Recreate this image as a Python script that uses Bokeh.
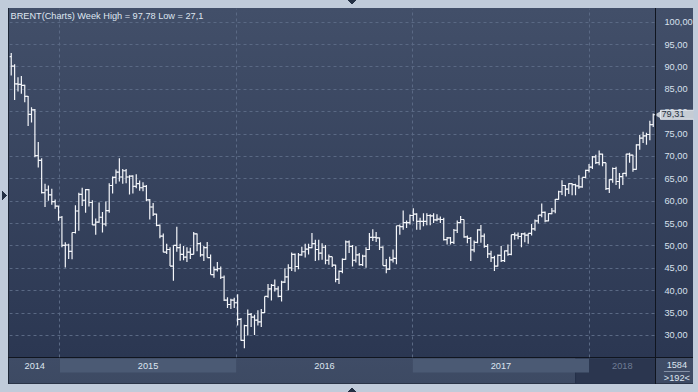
import math
import pandas as pd
from datetime import datetime, timedelta
from bokeh.plotting import figure
from bokeh.models import (Range1d, Grid, FixedTicker, SingleIntervalTicker,
                          CustomJSTickFormatter, Label, ColumnDataSource)
from bokeh.layouts import column, row
from bokeh.embed import file_html
from bokeh.resources import INLINE
from bokeh.core.properties import value

# ---------------- data (weekly OHLC) ----------------
week_start = "2014-09-22"
opens = [92.3, 90.2, 86.2, 86.1, 85.9, 83.4, 79.4, 80.4, 70.2, 69.1, 61.9, 62.5,
         61.4, 59.9, 58.9,
         56.4, 50.1, 50.2, 48.8, 53.0, 57.8, 61.5, 60.2, 62.6, 59.7, 54.7,
         55.3, 56.4, 54.9, 57.9, 63.5, 65.3, 66.5, 65.4, 66.8, 65.4, 65.6, 63.3,
         63.9, 63.0, 63.3, 60.3, 58.7, 57.1, 54.6, 52.2, 48.6, 49.2, 45.5, 50.1,
         49.6, 48.1, 47.5, 48.6, 48.1, 52.7, 50.5, 48.0, 49.6, 47.4, 43.6, 44.7,
         44.9, 43.0, 37.9, 36.9, 37.9, 37.3, 33.6, 28.9, 32.2, 34.7, 34.1, 33.4,
         33.0, 35.1, 38.7, 40.4, 41.2, 40.4, 38.7, 41.9, 43.1, 45.1, 48.1, 45.4,
         48.0, 48.7, 49.3, 49.6, 50.5, 49.2, 48.4, 49.7, 46.8, 47.6, 45.7, 42.5,
         44.3, 47.0, 50.9, 49.9, 46.8, 48.0, 45.8, 47.7, 49.2, 51.9, 51.9, 51.8,
         49.7, 45.6, 44.8, 46.9, 47.2, 54.5, 54.3, 55.2, 55.2, 56.8, 57.1, 55.5,
         55.5, 55.5, 56.8, 56.7, 55.8, 56.0, 55.9, 51.4, 51.8, 50.8, 53.5, 55.2,
         55.9, 52.0, 51.7, 49.1, 50.8, 53.6, 52.2, 49.9, 48.2, 47.4, 45.5, 47.9,
         46.7, 48.9, 48.1, 52.5, 52.4, 52.1, 52.7, 52.4, 52.8, 53.8, 55.6, 56.9,
         57.5, 55.6, 57.2, 57.8, 60.4, 62.1, 63.5, 62.7, 63.9, 63.7, 63.4, 63.2,
         65.3, 66.9, 67.6, 69.9, 68.6, 70.5, 68.6, 62.8, 64.8, 67.3, 64.4, 65.5,
         66.2, 70.5, 70.3, 67.1, 72.6, 74.1, 74.6, 74.9, 77.1]
highs = [93.1, 90.6, 87.7, 88.0, 86.0, 83.5, 81.0, 80.6, 73.2, 69.6, 63.9, 63.5,
         62.8, 60.4, 59.0,
         56.7, 50.8, 50.5, 53.0, 59.1, 61.9, 63.0, 62.7, 62.7, 60.2, 56.1,
         59.7, 57.6, 59.9, 64.0, 65.5, 67.1, 69.6, 67.2, 67.2, 65.8, 65.8, 66.0,
         64.6, 64.2, 63.6, 60.5, 59.6, 57.2, 54.8, 52.8, 50.5, 49.7, 50.1, 54.3,
         50.5, 50.0, 49.7, 49.6, 53.1, 52.8, 50.8, 50.0, 50.9, 48.1, 45.4, 46.4,
         45.4, 43.4, 38.5, 38.2, 38.4, 39.2, 33.9, 32.4, 35.8, 35.0, 34.6, 35.6,
         35.9, 38.7, 41.5, 41.5, 42.5, 41.0, 42.2, 45.0, 45.9, 48.5, 48.3, 48.4,
         49.8, 50.5, 50.5, 52.9, 51.4, 51.4, 50.6, 50.2, 48.1, 47.6, 45.8, 44.5,
         47.2, 51.2, 51.2, 50.2, 49.9, 48.4, 48.0, 49.7, 52.9, 53.7, 53.1, 51.9,
         49.9, 47.1, 47.6, 49.2, 54.5, 54.8, 57.9, 55.7, 57.0, 58.4, 57.3, 56.3,
         57.3, 57.3, 57.1, 57.3, 57.1, 56.6, 56.3, 52.0, 52.0, 53.8, 55.7, 56.7,
         55.9, 52.3, 52.0, 51.2, 53.7, 54.7, 52.8, 50.4, 48.9, 47.8, 48.1, 50.0,
         49.0, 50.3, 52.5, 53.0, 53.0, 52.9, 53.0, 52.8, 54.9, 55.9, 56.9, 59.5,
         57.7, 57.3, 58.5, 60.5, 62.3, 64.7, 63.6, 64.0, 64.0, 63.9, 65.8, 65.3,
         67.0, 68.3, 70.1, 70.4, 71.3, 70.6, 68.6, 64.9, 67.5, 67.7, 66.3, 66.3,
         70.6, 70.8, 70.4, 72.7, 74.8, 75.5, 75.3, 78.0, 79.6]
lows = [88.1, 82.6, 84.5, 84.0, 82.1, 76.8, 77.6, 69.8, 67.5, 61.7, 58.7, 60.1,
        59.2, 58.3, 55.6,
        49.7, 45.2, 47.1, 47.0, 52.8, 53.4, 58.9, 57.4, 58.8, 54.7, 52.5,
        55.2, 53.0, 54.4, 57.4, 61.7, 63.9, 64.4, 63.9, 64.0, 61.5, 61.7, 62.9,
        62.3, 62.2, 60.0, 55.9, 56.7, 54.4, 51.7, 48.6, 48.2, 45.5, 42.2, 48.7,
        46.7, 46.8, 46.4, 47.1, 48.1, 48.8, 47.6, 46.6, 47.4, 43.6, 42.9, 44.3,
        42.6, 37.7, 36.1, 35.9, 36.1, 32.2, 28.8, 27.1, 30.0, 31.9, 30.1, 32.2,
        31.9, 35.0, 38.4, 37.8, 39.8, 38.5, 37.6, 41.7, 40.1, 44.4, 44.2, 44.8,
        47.8, 47.4, 48.1, 49.5, 46.6, 46.8, 46.9, 45.9, 45.8, 45.3, 41.9, 41.5,
        43.9, 46.9, 48.4, 45.4, 46.3, 45.6, 45.5, 45.1, 49.1, 51.1, 50.9, 49.1,
        45.6, 43.9, 44.6, 46.3, 45.9, 52.5, 53.6, 54.0, 54.8, 55.5, 53.6, 53.6,
        54.4, 54.6, 54.6, 55.1, 55.5, 55.1, 51.2, 50.3, 50.3, 50.4, 52.9, 55.1,
        51.8, 50.6, 46.6, 48.6, 50.6, 50.7, 49.6, 47.3, 46.4, 44.4, 45.4, 46.4,
        46.4, 47.8, 47.9, 51.4, 51.5, 49.7, 50.8, 50.5, 52.3, 53.4, 55.0, 56.4,
        55.3, 55.5, 57.1, 57.3, 60.3, 61.4, 61.1, 61.6, 61.3, 61.3, 62.8, 63.0,
        65.1, 66.4, 67.2, 68.3, 68.0, 67.8, 62.5, 61.8, 64.1, 63.6, 62.8, 63.6,
        65.5, 68.6, 66.6, 67.0, 71.5, 73.0, 72.6, 73.6, 76.6]
closes = [90.2, 86.2, 86.1, 85.9, 83.4, 79.4, 80.4, 70.2, 69.1, 61.9, 62.5, 61.4,
          59.9, 58.9, 56.4,
          50.1, 50.2, 48.8, 53.0, 57.8, 61.5, 60.2, 62.6, 59.7, 54.7, 55.3,
          56.4, 54.9, 57.9, 63.5, 65.3, 66.5, 65.4, 66.8, 65.4, 65.6, 63.3, 63.9,
          63.0, 63.3, 60.3, 58.7, 57.1, 54.6, 52.2, 48.6, 49.2, 45.5, 50.1, 49.6,
          48.1, 47.5, 48.6, 48.1, 52.7, 50.5, 48.0, 49.6, 47.4, 43.6, 44.7, 44.9,
          43.0, 37.9, 36.9, 37.9, 37.3, 33.6, 28.9, 32.2, 34.7, 34.1, 33.4, 33.0,
          35.1, 38.7, 40.4, 41.2, 40.4, 38.7, 41.9, 43.1, 45.1, 48.1, 45.4, 48.0,
          48.7, 49.3, 49.6, 50.5, 49.2, 48.4, 49.7, 46.8, 47.6, 45.7, 42.5, 44.3,
          47.0, 50.9, 49.9, 46.8, 48.0, 45.8, 47.7, 49.2, 51.9, 51.9, 51.8, 49.7,
          45.6, 44.8, 46.9, 47.2, 54.5, 54.3, 55.2, 55.2, 56.8, 57.1, 55.5, 55.5,
          55.5, 56.8, 56.7, 55.8, 56.0, 55.9, 51.4, 51.8, 50.8, 53.5, 55.2, 55.9,
          52.0, 51.7, 49.1, 50.8, 53.6, 52.2, 49.9, 48.2, 47.4, 45.5, 47.9, 46.7,
          48.9, 48.1, 52.5, 52.4, 52.1, 52.7, 52.4, 52.8, 53.8, 55.6, 56.9, 57.5,
          55.6, 57.2, 57.8, 60.4, 62.1, 63.5, 62.7, 63.9, 63.7, 63.4, 63.2, 65.3,
          66.9, 67.6, 69.9, 68.6, 70.5, 68.6, 62.8, 64.8, 67.3, 64.4, 65.5, 66.2,
          70.5, 70.3, 67.1, 72.6, 74.1, 74.6, 74.9, 77.1, 79.31]

year_labels = ["2014", "2015", "2016", "2017", "2018"]
year_label_colors = ["#dde5f0", "#dde5f0", "#dde5f0", "#dde5f0", "#6f7d95"]
banded_years = [2015, 2017]
title_text = "BRENT(Charts) Week High = 97,78 Low = 27,1"
last_price_text = "79,31"
total_bars_text = "1584"
visible_bars_text = ">192<"
window_start = "2017-12-04"

# ---------------- ranges ----------------
ref = datetime(2015, 1, 1)
x_start = ref - timedelta(days=104.6)
x_end = ref + timedelta(days=1233.7)
xr = Range1d(start=x_start, end=x_end)
yr = Range1d(start=25.06, end=103.06)

dates = pd.date_range(week_start, periods=len(closes), freq="7D")
tick = pd.Timedelta(days=4)
src = ColumnDataSource(dict(x=dates, xo=dates - tick, xc=dates + tick,
                            o=opens, h=highs, l=lows, c=closes))

FONT = "Liberation Sans"
FS = "9.2px"
LIGHT = "#c0cbda"
DARK = "#243044"
common = dict(toolbar_location=None, output_backend="svg", title=None,
              background_fill_alpha=0, border_fill_alpha=0, outline_line_color=None)

# ---------------- main price panel ----------------
css_a1 = ", ".join([
    # small navigation arrows in the frame (top and left)
    f"linear-gradient(to top right, transparent 50%, {DARK} 50%) 348px 0 / 4px 4px no-repeat",
    f"linear-gradient(to top left, transparent 50%, {DARK} 50%) 352px 0 / 4px 4px no-repeat",
    f"linear-gradient(to bottom left, transparent 50%, {DARK} 50%) 2px 191px / 5px 5px no-repeat",
    f"linear-gradient(to top left, transparent 50%, {DARK} 50%) 2px 196px / 5px 5px no-repeat",
    "linear-gradient(#10151f,#10151f) 655px 8px / 1px 350px no-repeat",
    "linear-gradient(#10151f,#10151f) 8px 357px / 648px 1px no-repeat",
    "linear-gradient(#1d2636,#1d2636) 8px 8px / 1px 350px no-repeat",
    "linear-gradient(#424f69,#2b3752) 9px 8px / 646px 349px no-repeat",
    LIGHT,
])
p = figure(width=656, height=358, x_range=xr, y_range=yr,
           x_axis_type="datetime", x_axis_location=None, y_axis_location=None,
           min_border_left=9, min_border_right=1, min_border_top=8, min_border_bottom=1,
           styles={"background": css_a1}, **common)
p.grid.visible = False

yt = SingleIntervalTicker(interval=5)
year_ticks = [pd.Timestamp(f"{y}-01-01").value / 1e6 for y in range(2015, 2019)]
grid_style = dict(grid_line_color="#5a6984", grid_line_dash="3 3", grid_line_width=1)
p.add_layout(Grid(dimension=1, ticker=yt, **grid_style))
p.add_layout(Grid(dimension=0, ticker=FixedTicker(ticks=year_ticks), **grid_style))

bar_col = "#f4f6fa"
p.segment(x0="x", y0="l", x1="x", y1="h", source=src, line_color=bar_col, line_width=1.2)
p.segment(x0="xo", y0="o", x1="x", y1="o", source=src, line_color=bar_col, line_width=1.2)
p.segment(x0="x", y0="c", x1="xc", y1="c", source=src, line_color=bar_col, line_width=1.2)

p.add_layout(Label(x=1, y=347, x_units="screen", y_units="screen", text=title_text,
                   text_font=FONT, text_font_size=FS, text_color="#dfe6f0",
                   text_baseline="top"))

# ---------------- price axis panel ----------------
css_a2 = ", ".join([
    "linear-gradient(#10151f,#10151f) 0 357px / 37px 1px no-repeat",
    "linear-gradient(#424f69,#2b3752) 0 8px / 37px 349px no-repeat",
    LIGHT,
])
pa = figure(width=42, height=358, x_range=Range1d(0, 37), y_range=yr,
            x_axis_location=None, y_axis_location="right",
            min_border_left=0, min_border_right=5, min_border_top=8, min_border_bottom=1,
            styles={"background": css_a2}, **common)
pa.grid.visible = False
ax = pa.yaxis[0]
ax.ticker = yt
ax.formatter = CustomJSTickFormatter(code="return tick.toFixed(2).replace('.', ',');")
ax.axis_line_color = None
ax.major_tick_line_color = None
ax.minor_tick_line_color = None
ax.major_label_standoff = -35
ax.major_label_text_font = FONT
ax.major_label_text_font_size = FS
ax.major_label_text_color = "#d8e1ed"

pa.scatter(x=[2.0], y=[closes[-1]], marker="triangle", angle=math.pi / 2, size=7,
           fill_color="#c6ccd4", line_color=None)
pa.add_layout(Label(x=4, x_units="screen", y=closes[-1], y_units="data",
                    text=last_price_text, text_font=FONT, text_font_size=FS,
                    text_color="#27313f", text_baseline="middle",
                    background_fill_color="#c6ccd4", border_line_color="#e4e8ee",
                    padding=(1, 10, 1, 2)))

# ---------------- time bar ----------------
css_b1 = ", ".join([
    f"linear-gradient(to bottom right, transparent 50%, {DARK} 50%) 348px 29px / 4px 5px no-repeat",
    f"linear-gradient(to bottom left, transparent 50%, {DARK} 50%) 352px 29px / 4px 5px no-repeat",
    "linear-gradient(#1d2636,#1d2636) 8px 0 / 1px 26px no-repeat",
    "linear-gradient(#2a3447,#2a3447) 8px 25px / 647px 1px no-repeat",
    "linear-gradient(#3f4c66,#3d4a63) 9px 0 / 646px 25px no-repeat",
    LIGHT,
])
b1 = figure(width=655, height=34, x_range=xr, y_range=Range1d(0, 1),
            x_axis_type="datetime", x_axis_location=None, y_axis_location=None,
            min_border_left=9, min_border_right=0, min_border_top=0, min_border_bottom=9,
            styles={"background": css_b1}, **common)
b1.grid.visible = False

b1.quad(left=[pd.Timestamp(window_start)], right=[pd.Timestamp(x_end)], bottom=[0], top=[1],
        fill_color="#2b364f", line_color="#25304a")
b1.quad(left=[pd.Timestamp(f"{y}-01-01") for y in banded_years],
        right=[pd.Timestamp(f"{y + 1}-01-01") for y in banded_years],
        bottom=0.44, top=1.0, fill_color="#4b5a74", line_color=None)

mids = []
for lab in year_labels:
    y = int(lab)
    s = max(pd.Timestamp(f"{y}-01-01"), pd.Timestamp(x_start))
    e = min(pd.Timestamp(f"{y + 1}-01-01"), pd.Timestamp(x_end))
    mids.append(s + (e - s) / 2)
b1.text(x=mids, y=[0.72] * len(mids), text=year_labels, text_color=year_label_colors,
        text_font=value(FONT), text_font_size=FS, text_align="center",
        text_baseline="middle")

css_b2 = ", ".join([
    "linear-gradient(#10151f,#10151f) 0 0 / 1px 26px no-repeat",
    "linear-gradient(#2a3447,#2a3447) 0 25px / 38px 1px no-repeat",
    "linear-gradient(#3f4c66,#3d4a63) 1px 0 / 37px 25px no-repeat",
    LIGHT,
])
b2 = figure(width=43, height=34, x_range=Range1d(0, 1), y_range=Range1d(0, 1),
            x_axis_location=None, y_axis_location=None,
            min_border_left=1, min_border_right=5, min_border_top=0, min_border_bottom=9,
            styles={"background": css_b2}, **common)
b2.grid.visible = False
b2.text(x=[0.55, 0.55], y=[0.76, 0.24], text=[total_bars_text, visible_bars_text],
        text_color="#dde5f0", text_font=value(FONT), text_font_size=FS,
        text_align="center", text_baseline="middle")
b2.segment(x0=[0.2], y0=[0.48], x1=[0.9], y1=[0.48], line_color="#8491a6", line_width=1)

layout = column(row(p, pa, spacing=0), row(b1, b2, spacing=0), spacing=0)
open("out.html", "w").write(file_html(layout, INLINE))
